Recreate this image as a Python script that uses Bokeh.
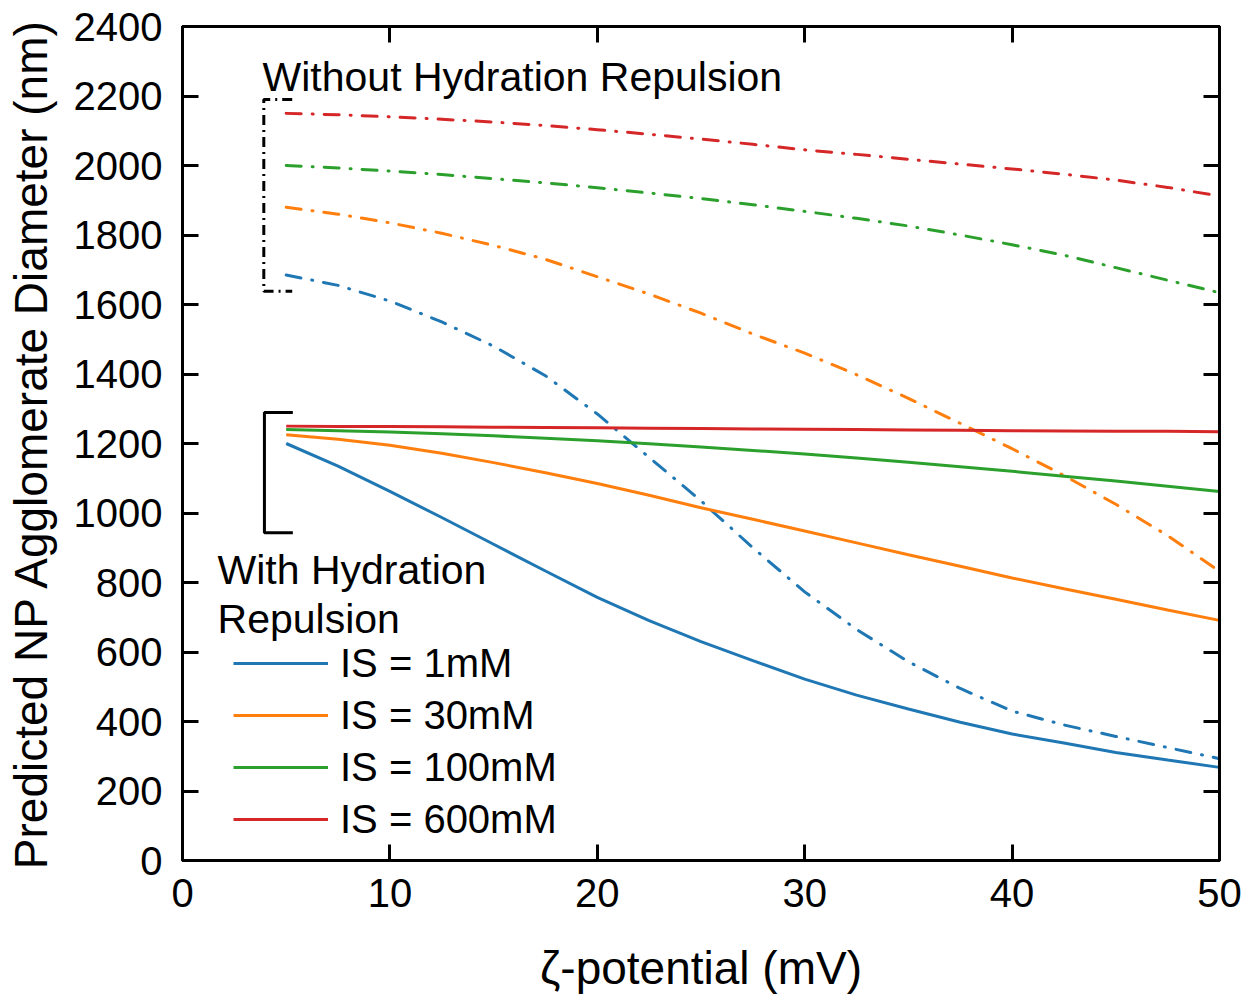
from bokeh.plotting import figure
from bokeh.models import (Range1d, LinearAxis, Legend, LegendItem, Label,
                          FixedTicker)
from bokeh.embed import file_html
from bokeh.resources import INLINE

# ---------------- data ----------------
zeta = [5, 7.5, 10, 12.5, 15, 17.5, 20, 22.5, 25, 27.5, 30,
        32.5, 35, 37.5, 40, 42.5, 45, 47.5, 50]

# With hydration repulsion (solid)
with_1mM = [1200, 1135, 1062, 987, 910, 833, 757, 690, 630, 575, 522,
            476, 436, 398, 364, 338, 311, 289, 268]
with_30mM = [1225, 1212, 1195, 1172, 1145, 1116, 1085, 1051, 1015, 982, 948,
             914, 880, 847, 813, 782, 752, 721, 691]
with_100mM = [1240, 1237, 1233, 1228, 1222, 1215, 1208, 1199, 1190, 1180, 1170,
              1158, 1146, 1133, 1120, 1106, 1092, 1077, 1062]
with_600mM = [1250, 1249, 1249, 1248, 1247, 1246, 1245, 1244, 1243, 1242, 1241,
              1240, 1239, 1238, 1237, 1236, 1235, 1235, 1234]

# Without hydration repulsion (dash-dot)
without_1mM = [1685, 1655, 1610, 1550, 1480, 1395, 1285, 1160, 1035, 900, 773,
               665, 572, 495, 430, 390, 357, 325, 293]
without_30mM = [1880, 1860, 1835, 1805, 1770, 1730, 1680, 1630, 1575, 1515, 1460,
                1398, 1330, 1258, 1185, 1108, 1025, 935, 832]
without_100mM = [2000, 1993, 1984, 1974, 1962, 1950, 1936, 1921, 1905, 1887, 1868,
                 1848, 1826, 1800, 1772, 1742, 1706, 1670, 1634]
without_600mM = [2150, 2146, 2140, 2133, 2125, 2115, 2103, 2090, 2076, 2061, 2045,
                 2032, 2018, 2004, 1990, 1975, 1958, 1937, 1912]

series_labels = ["IS = 1mM", "IS = 30mM", "IS = 100mM", "IS = 600mM"]
colors = ["#1f77b4", "#ff7f0e", "#2ca02c", "#d62728"]

x_ticks = [0, 10, 20, 30, 40, 50]
y_ticks = list(range(0, 2401, 200))

FONT = "Liberation Sans"

# ---------------- figure ----------------
p = figure(frame_width=1037, frame_height=834,
           x_range=Range1d(0, 50), y_range=Range1d(0, 2400),
           output_backend="svg", toolbar_location=None,
           x_axis_location=None, y_axis_location=None,
           min_border_left=182, min_border_right=24,
           min_border_top=26, min_border_bottom=130)
p.grid.visible = False
p.outline_line_color = "black"
p.outline_line_width = 3
p.background_fill_color = "white"
p.border_fill_color = "white"


def style_axis(ax, ticks, show_labels=True):
    ax.axis_line_width = 3
    ax.axis_line_color = "black"
    ax.major_tick_line_width = 3
    ax.major_tick_line_color = "black"
    ax.major_tick_in = 16
    ax.major_tick_out = 0
    ax.minor_tick_line_color = None
    ax.major_label_text_font = FONT
    ax.major_label_text_color = "black"
    ax.major_label_text_font_size = "40px"
    if not show_labels:
        ax.major_label_overrides = {t: "" for t in ticks}
        ax.major_label_standoff = 0


xb = LinearAxis(ticker=FixedTicker(ticks=x_ticks))
style_axis(xb, x_ticks)
xb.major_label_standoff = 18
xb.axis_label = "ζ-potential (mV)"
xb.axis_label_text_font = FONT
xb.axis_label_text_font_size = "46px"
xb.axis_label_text_font_style = "normal"
xb.axis_label_text_color = "black"
xb.axis_label_standoff = 32
p.add_layout(xb, "below")

yl = LinearAxis(ticker=FixedTicker(ticks=y_ticks))
style_axis(yl, y_ticks)
yl.major_label_standoff = 20
yl.axis_label = "Predicted NP Agglomerate Diameter (nm)"
yl.axis_label_text_font = FONT
yl.axis_label_text_font_size = "46px"
yl.axis_label_text_font_style = "normal"
yl.axis_label_text_color = "black"
yl.axis_label_standoff = 14
p.add_layout(yl, "left")

xt = LinearAxis(ticker=FixedTicker(ticks=x_ticks))
style_axis(xt, x_ticks, show_labels=False)
p.add_layout(xt, "above")

yr = LinearAxis(ticker=FixedTicker(ticks=y_ticks))
style_axis(yr, y_ticks, show_labels=False)
p.add_layout(yr, "right")

# ---------------- curves ----------------
with_series = [with_1mM, with_30mM, with_100mM, with_600mM]
without_series = [without_1mM, without_30mM, without_100mM, without_600mM]

items = []
for lab, col, ys_w, ys_wo in zip(series_labels, colors, with_series, without_series):
    p.line(zeta, ys_wo, line_color=col, line_width=3,
           line_dash="15 11 1 11", line_cap="round")
    r = p.line(zeta, ys_w, line_color=col, line_width=3)
    items.append(LegendItem(label=lab, renderers=[r]))

legend = Legend(items=items, location=(51, 15),
                glyph_width=95, glyph_height=52, label_height=52,
                spacing=0, padding=0, margin=0, label_standoff=12,
                label_text_font=FONT, label_text_font_size="40px",
                label_text_color="black",
                border_line_color=None, background_fill_alpha=0)
p.add_layout(legend)

# ---------------- annotations ----------------
# brackets
p.line([5.29, 3.92, 3.92, 5.29], [2190, 2190, 1638, 1638],
       line_color="black", line_width=3, line_dash="10 5 2 5")
p.line([5.32, 3.95, 3.95, 5.32], [1289, 1289, 943, 943],
       line_color="black", line_width=3)

for txt, xx, yy in [("Without Hydration Repulsion", 3.86, 2256),
                    ("With Hydration", 1.69, 835),
                    ("Repulsion", 1.69, 695)]:
    p.add_layout(Label(x=xx, y=yy, text=txt, text_font=FONT,
                       text_font_size="41px", text_color="black",
                       text_baseline="alphabetic", text_align="left"))

open("out.html", "w").write(file_html(p, INLINE))
